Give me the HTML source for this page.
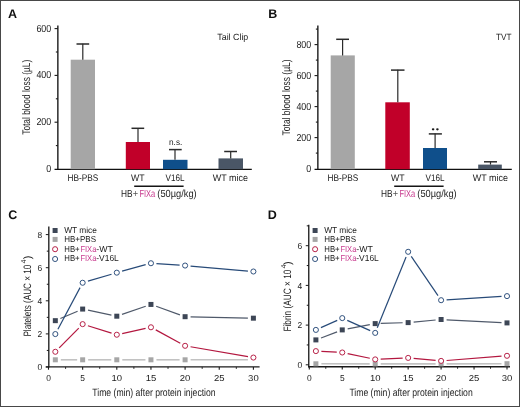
<!DOCTYPE html>
<html><head><meta charset="utf-8"><style>
html,body{margin:0;padding:0;background:#fff;}
body{width:520px;height:407px;overflow:hidden;}
svg{display:block;font-family:"Liberation Sans", sans-serif;will-change:transform;text-rendering:geometricPrecision;}
</style></head><body>
<svg width="520" height="407" viewBox="0 0 520 407">
<rect x="0" y="0" width="520" height="407" fill="#fff"/>
<text x="8" y="18" font-size="12.5" text-anchor="start" fill="#111" font-weight="bold" >A</text>
<text x="268.3" y="18.2" font-size="12.5" text-anchor="start" fill="#111" font-weight="bold" >B</text>
<text x="8.2" y="218.7" font-size="12.5" text-anchor="start" fill="#111" font-weight="bold" >C</text>
<text x="267.8" y="218.7" font-size="12.5" text-anchor="start" fill="#111" font-weight="bold" >D</text>
<line x1="57.85" y1="25.5" x2="57.85" y2="169.9" stroke="#2a2a2a" stroke-width="1.5"/>
<line x1="54.55" y1="28.6" x2="57.85" y2="28.6" stroke="#1a1a1a" stroke-width="1.1"/>
<text x="51.25" y="31.6" font-size="10.2" text-anchor="end" fill="#222222" font-weight="normal" textLength="14.85" lengthAdjust="spacingAndGlyphs" >600</text>
<line x1="54.55" y1="75.4" x2="57.85" y2="75.4" stroke="#1a1a1a" stroke-width="1.1"/>
<text x="51.25" y="78.4" font-size="10.2" text-anchor="end" fill="#222222" font-weight="normal" textLength="14.85" lengthAdjust="spacingAndGlyphs" >400</text>
<line x1="54.55" y1="122.2" x2="57.85" y2="122.2" stroke="#1a1a1a" stroke-width="1.1"/>
<text x="51.25" y="125.2" font-size="10.2" text-anchor="end" fill="#222222" font-weight="normal" textLength="14.85" lengthAdjust="spacingAndGlyphs" >200</text>
<text x="51.25" y="172.0" font-size="10.2" text-anchor="end" fill="#222222" font-weight="normal" textLength="4.95" lengthAdjust="spacingAndGlyphs" >0</text>
<line x1="55.85" y1="52.0" x2="57.85" y2="52.0" stroke="#1a1a1a" stroke-width="1.1"/>
<line x1="55.85" y1="98.8" x2="57.85" y2="98.8" stroke="#1a1a1a" stroke-width="1.1"/>
<line x1="55.85" y1="145.6" x2="57.85" y2="145.6" stroke="#1a1a1a" stroke-width="1.1"/>
<line x1="54.55" y1="169.35" x2="251.8" y2="169.35" stroke="#111" stroke-width="1.2"/>
<rect x="70.7" y="59.7" width="24.3" height="109.5" fill="#a6a6a6"/>
<line x1="82.8" y1="43.7" x2="82.8" y2="59.7" stroke="#2a2a2a" stroke-width="1.2"/>
<line x1="76.5" y1="44.0" x2="89.2" y2="44.0" stroke="#2a2a2a" stroke-width="1.5"/>
<rect x="125.8" y="142" width="24.2" height="27.2" fill="#c10029"/>
<line x1="138" y1="128" x2="138" y2="142" stroke="#2a2a2a" stroke-width="1.2"/>
<line x1="131.5" y1="128.3" x2="144.2" y2="128.3" stroke="#2a2a2a" stroke-width="1.5"/>
<rect x="163" y="159.8" width="24.5" height="9.4" fill="#0f4f8b"/>
<line x1="175" y1="149.3" x2="175" y2="159.8" stroke="#2a2a2a" stroke-width="1.2"/>
<line x1="169" y1="149.6" x2="181.7" y2="149.6" stroke="#2a2a2a" stroke-width="1.5"/>
<rect x="218.5" y="158.4" width="24.5" height="10.8" fill="#4a5666"/>
<line x1="230.7" y1="151.2" x2="230.7" y2="158.4" stroke="#2a2a2a" stroke-width="1.2"/>
<line x1="224.2" y1="151.5" x2="237" y2="151.5" stroke="#2a2a2a" stroke-width="1.5"/>
<text x="67.4" y="180.5" font-size="9.6" text-anchor="start" fill="#222222" font-weight="normal" textLength="30.9" lengthAdjust="spacingAndGlyphs" >HB-PBS</text>
<text x="137.8" y="180.5" font-size="9.6" text-anchor="middle" fill="#222222" font-weight="normal" textLength="13.6" lengthAdjust="spacingAndGlyphs" >WT</text>
<text x="175.1" y="180.5" font-size="9.6" text-anchor="middle" fill="#222222" font-weight="normal" textLength="19" lengthAdjust="spacingAndGlyphs" >V16L</text>
<text x="212.7" y="180.5" font-size="9.6" text-anchor="start" fill="#222222" font-weight="normal" textLength="35.2" lengthAdjust="spacingAndGlyphs" >WT mice</text>
<line x1="134.2" y1="186.25" x2="183.6" y2="186.25" stroke="#151515" stroke-width="1.3"/>
<text x="121.0" y="196.9" font-size="10.3" text-anchor="start" fill="#222222" font-weight="normal" textLength="11.6" lengthAdjust="spacingAndGlyphs" >HB</text>
<text x="132.8" y="196.9" font-size="10.3" text-anchor="start" fill="#555" font-weight="normal" textLength="5.4" lengthAdjust="spacingAndGlyphs" >+</text>
<text x="139.4" y="196.9" font-size="10.3" text-anchor="start" fill="#c83a8e" font-weight="normal" textLength="15.8" lengthAdjust="spacingAndGlyphs" >FIXa</text>
<text x="157.3" y="196.9" font-size="10.3" text-anchor="start" fill="#222222" font-weight="normal" textLength="39.4" lengthAdjust="spacingAndGlyphs" >(50µg/kg)</text>
<text x="169" y="145.3" font-size="8.6" text-anchor="start" fill="#222222" font-weight="normal" textLength="13.3" lengthAdjust="spacingAndGlyphs" >n.s.</text>
<text x="217.3" y="40.2" font-size="9" text-anchor="start" fill="#222222" font-weight="normal" textLength="31" lengthAdjust="spacingAndGlyphs" >Tail Clip</text>
<text transform="translate(29.9,97.3) rotate(-90)" font-size="11" text-anchor="middle" fill="#222222" textLength="75" lengthAdjust="spacingAndGlyphs">Total blood loss (µL)</text>
<line x1="317.85" y1="25.6" x2="317.85" y2="169.9" stroke="#2a2a2a" stroke-width="1.5"/>
<line x1="314.55" y1="44.6" x2="317.85" y2="44.6" stroke="#1a1a1a" stroke-width="1.1"/>
<text x="311.25" y="47.6" font-size="10.2" text-anchor="end" fill="#222222" font-weight="normal" textLength="14.85" lengthAdjust="spacingAndGlyphs" >800</text>
<line x1="314.55" y1="75.6" x2="317.85" y2="75.6" stroke="#1a1a1a" stroke-width="1.1"/>
<text x="311.25" y="78.6" font-size="10.2" text-anchor="end" fill="#222222" font-weight="normal" textLength="14.85" lengthAdjust="spacingAndGlyphs" >600</text>
<line x1="314.55" y1="106.6" x2="317.85" y2="106.6" stroke="#1a1a1a" stroke-width="1.1"/>
<text x="311.25" y="109.6" font-size="10.2" text-anchor="end" fill="#222222" font-weight="normal" textLength="14.85" lengthAdjust="spacingAndGlyphs" >400</text>
<line x1="314.55" y1="137.6" x2="317.85" y2="137.6" stroke="#1a1a1a" stroke-width="1.1"/>
<text x="311.25" y="140.6" font-size="10.2" text-anchor="end" fill="#222222" font-weight="normal" textLength="14.85" lengthAdjust="spacingAndGlyphs" >200</text>
<text x="311.25" y="171.6" font-size="10.2" text-anchor="end" fill="#222222" font-weight="normal" textLength="4.95" lengthAdjust="spacingAndGlyphs" >0</text>
<line x1="315.85" y1="29.1" x2="317.85" y2="29.1" stroke="#1a1a1a" stroke-width="1.1"/>
<line x1="315.85" y1="60.1" x2="317.85" y2="60.1" stroke="#1a1a1a" stroke-width="1.1"/>
<line x1="315.85" y1="91.1" x2="317.85" y2="91.1" stroke="#1a1a1a" stroke-width="1.1"/>
<line x1="315.85" y1="122.1" x2="317.85" y2="122.1" stroke="#1a1a1a" stroke-width="1.1"/>
<line x1="315.85" y1="153.1" x2="317.85" y2="153.1" stroke="#1a1a1a" stroke-width="1.1"/>
<line x1="314.55" y1="169.35" x2="511.8" y2="169.35" stroke="#111" stroke-width="1.2"/>
<rect x="330.7" y="55.4" width="24.1" height="113.8" fill="#a6a6a6"/>
<line x1="342.6" y1="39" x2="342.6" y2="55.4" stroke="#2a2a2a" stroke-width="1.2"/>
<line x1="336.2" y1="39.3" x2="349" y2="39.3" stroke="#2a2a2a" stroke-width="1.5"/>
<rect x="385.3" y="102.3" width="24.5" height="66.9" fill="#c10029"/>
<line x1="397.8" y1="69.8" x2="397.8" y2="102.3" stroke="#2a2a2a" stroke-width="1.2"/>
<line x1="391" y1="70.1" x2="404.5" y2="70.1" stroke="#2a2a2a" stroke-width="1.5"/>
<rect x="423" y="148" width="24" height="21.2" fill="#0f4f8b"/>
<line x1="435.1" y1="133.6" x2="435.1" y2="148" stroke="#2a2a2a" stroke-width="1.2"/>
<line x1="428.8" y1="133.9" x2="441.9" y2="133.9" stroke="#2a2a2a" stroke-width="1.5"/>
<rect x="478.2" y="164.6" width="23.6" height="4.6" fill="#4a5666"/>
<line x1="490.5" y1="161.5" x2="490.5" y2="164.6" stroke="#2a2a2a" stroke-width="1.2"/>
<line x1="484" y1="161.8" x2="497" y2="161.8" stroke="#2a2a2a" stroke-width="1.5"/>
<text x="327.4" y="180.5" font-size="9.6" text-anchor="start" fill="#222222" font-weight="normal" textLength="30.9" lengthAdjust="spacingAndGlyphs" >HB-PBS</text>
<text x="397.8" y="180.5" font-size="9.6" text-anchor="middle" fill="#222222" font-weight="normal" textLength="13.6" lengthAdjust="spacingAndGlyphs" >WT</text>
<text x="435.1" y="180.5" font-size="9.6" text-anchor="middle" fill="#222222" font-weight="normal" textLength="19" lengthAdjust="spacingAndGlyphs" >V16L</text>
<text x="472.7" y="180.5" font-size="9.6" text-anchor="start" fill="#222222" font-weight="normal" textLength="35.2" lengthAdjust="spacingAndGlyphs" >WT mice</text>
<line x1="394.2" y1="186.25" x2="443.6" y2="186.25" stroke="#151515" stroke-width="1.3"/>
<text x="381.0" y="196.9" font-size="10.3" text-anchor="start" fill="#222222" font-weight="normal" textLength="11.6" lengthAdjust="spacingAndGlyphs" >HB</text>
<text x="392.8" y="196.9" font-size="10.3" text-anchor="start" fill="#555" font-weight="normal" textLength="5.4" lengthAdjust="spacingAndGlyphs" >+</text>
<text x="399.4" y="196.9" font-size="10.3" text-anchor="start" fill="#c83a8e" font-weight="normal" textLength="15.8" lengthAdjust="spacingAndGlyphs" >FIXa</text>
<text x="417.3" y="196.9" font-size="10.3" text-anchor="start" fill="#222222" font-weight="normal" textLength="39.4" lengthAdjust="spacingAndGlyphs" >(50µg/kg)</text>
<ellipse cx="433.1" cy="129.3" rx="1.3" ry="1.1" fill="#1a1a1a"/><ellipse cx="437.4" cy="129.3" rx="1.3" ry="1.1" fill="#1a1a1a"/>
<text x="496" y="40" font-size="9" text-anchor="start" fill="#222222" font-weight="normal" textLength="15.5" lengthAdjust="spacingAndGlyphs" >TVT</text>
<text transform="translate(289.9,97.4) rotate(-90)" font-size="11" text-anchor="middle" fill="#222222" textLength="76" lengthAdjust="spacingAndGlyphs">Total blood loss (µL)</text>
<line x1="48.8" y1="226.5" x2="48.8" y2="367.4" stroke="#262626" stroke-width="1.4"/>
<line x1="45.8" y1="367.0" x2="48.8" y2="367.0" stroke="#1a1a1a" stroke-width="1"/>
<text x="42.3" y="370.1" font-size="8.6" text-anchor="end" fill="#222222" font-weight="normal" textLength="4.7" lengthAdjust="spacingAndGlyphs" >0</text>
<line x1="46.8" y1="350.45" x2="48.8" y2="350.45" stroke="#1a1a1a" stroke-width="1"/>
<line x1="45.8" y1="333.9" x2="48.8" y2="333.9" stroke="#1a1a1a" stroke-width="1"/>
<text x="42.3" y="337.0" font-size="8.6" text-anchor="end" fill="#222222" font-weight="normal" textLength="4.7" lengthAdjust="spacingAndGlyphs" >2</text>
<line x1="46.8" y1="317.35" x2="48.8" y2="317.35" stroke="#1a1a1a" stroke-width="1"/>
<line x1="45.8" y1="300.8" x2="48.8" y2="300.8" stroke="#1a1a1a" stroke-width="1"/>
<text x="42.3" y="303.9" font-size="8.6" text-anchor="end" fill="#222222" font-weight="normal" textLength="4.7" lengthAdjust="spacingAndGlyphs" >4</text>
<line x1="46.8" y1="284.25" x2="48.8" y2="284.25" stroke="#1a1a1a" stroke-width="1"/>
<line x1="45.8" y1="267.7" x2="48.8" y2="267.7" stroke="#1a1a1a" stroke-width="1"/>
<text x="42.3" y="270.8" font-size="8.6" text-anchor="end" fill="#222222" font-weight="normal" textLength="4.7" lengthAdjust="spacingAndGlyphs" >6</text>
<line x1="46.8" y1="251.15" x2="48.8" y2="251.15" stroke="#1a1a1a" stroke-width="1"/>
<line x1="45.8" y1="234.6" x2="48.8" y2="234.6" stroke="#1a1a1a" stroke-width="1"/>
<text x="42.3" y="237.7" font-size="8.6" text-anchor="end" fill="#222222" font-weight="normal" textLength="4.7" lengthAdjust="spacingAndGlyphs" >8</text>
<line x1="45.8" y1="366.9" x2="259.6" y2="366.9" stroke="#1a1a1a" stroke-width="1.4"/>
<line x1="48.5" y1="366.9" x2="48.5" y2="369.7" stroke="#1a1a1a" stroke-width="1.1"/>
<text x="48.5" y="381.1" font-size="8.6" text-anchor="middle" fill="#222222" font-weight="normal" textLength="4.7" lengthAdjust="spacingAndGlyphs" >0</text>
<line x1="65.58" y1="366.9" x2="65.58" y2="368.9" stroke="#1a1a1a" stroke-width="0.9"/>
<line x1="82.65" y1="366.9" x2="82.65" y2="369.7" stroke="#1a1a1a" stroke-width="1.1"/>
<text x="82.65" y="381.1" font-size="8.6" text-anchor="middle" fill="#222222" font-weight="normal" textLength="4.7" lengthAdjust="spacingAndGlyphs" >5</text>
<line x1="99.72" y1="366.9" x2="99.72" y2="368.9" stroke="#1a1a1a" stroke-width="0.9"/>
<line x1="116.8" y1="366.9" x2="116.8" y2="369.7" stroke="#1a1a1a" stroke-width="1.1"/>
<text x="116.8" y="381.1" font-size="8.6" text-anchor="middle" fill="#222222" font-weight="normal" textLength="10.6" lengthAdjust="spacingAndGlyphs" >10</text>
<line x1="133.88" y1="366.9" x2="133.88" y2="368.9" stroke="#1a1a1a" stroke-width="0.9"/>
<line x1="150.95" y1="366.9" x2="150.95" y2="369.7" stroke="#1a1a1a" stroke-width="1.1"/>
<text x="150.95" y="381.1" font-size="8.6" text-anchor="middle" fill="#222222" font-weight="normal" textLength="10.6" lengthAdjust="spacingAndGlyphs" >15</text>
<line x1="168.03" y1="366.9" x2="168.03" y2="368.9" stroke="#1a1a1a" stroke-width="0.9"/>
<line x1="185.1" y1="366.9" x2="185.1" y2="369.7" stroke="#1a1a1a" stroke-width="1.1"/>
<text x="185.1" y="381.1" font-size="8.6" text-anchor="middle" fill="#222222" font-weight="normal" textLength="10.6" lengthAdjust="spacingAndGlyphs" >20</text>
<line x1="202.18" y1="366.9" x2="202.18" y2="368.9" stroke="#1a1a1a" stroke-width="0.9"/>
<line x1="219.25" y1="366.9" x2="219.25" y2="369.7" stroke="#1a1a1a" stroke-width="1.1"/>
<text x="219.25" y="381.1" font-size="8.6" text-anchor="middle" fill="#222222" font-weight="normal" textLength="10.6" lengthAdjust="spacingAndGlyphs" >25</text>
<line x1="236.32" y1="366.9" x2="236.32" y2="368.9" stroke="#1a1a1a" stroke-width="0.9"/>
<line x1="253.4" y1="366.9" x2="253.4" y2="369.7" stroke="#1a1a1a" stroke-width="1.1"/>
<text x="253.4" y="381.1" font-size="8.6" text-anchor="middle" fill="#222222" font-weight="normal" textLength="10.6" lengthAdjust="spacingAndGlyphs" >30</text>
<line x1="60.83" y1="359.8" x2="77.15" y2="359.8" stroke="#c2c2c2" stroke-width="1.6"/>
<line x1="88.15" y1="359.8" x2="111.3" y2="359.8" stroke="#c2c2c2" stroke-width="1.6"/>
<line x1="122.3" y1="359.8" x2="145.45" y2="359.8" stroke="#c2c2c2" stroke-width="1.6"/>
<line x1="156.45" y1="359.8" x2="179.6" y2="359.8" stroke="#c2c2c2" stroke-width="1.6"/>
<line x1="190.6" y1="359.8" x2="247.9" y2="359.8" stroke="#c2c2c2" stroke-width="1.6"/>
<line x1="60.39" y1="318.51" x2="77.59" y2="311.22" stroke="#4f596a" stroke-width="1.2"/>
<line x1="88.03" y1="310.2" x2="111.42" y2="315.07" stroke="#4f596a" stroke-width="1.2"/>
<line x1="122.0" y1="314.4" x2="145.75" y2="306.23" stroke="#4f596a" stroke-width="1.2"/>
<line x1="156.13" y1="306.3" x2="179.92" y2="314.83" stroke="#4f596a" stroke-width="1.2"/>
<line x1="190.6" y1="316.81" x2="247.9" y2="318.06" stroke="#4f596a" stroke-width="1.2"/>
<line x1="59.2" y1="347.86" x2="78.78" y2="328.05" stroke="#b3173f" stroke-width="1.2"/>
<line x1="87.9" y1="325.76" x2="111.55" y2="333.1" stroke="#b3173f" stroke-width="1.2"/>
<line x1="122.17" y1="333.56" x2="145.58" y2="328.45" stroke="#b3173f" stroke-width="1.2"/>
<line x1="155.78" y1="329.9" x2="180.27" y2="343.19" stroke="#b3173f" stroke-width="1.2"/>
<line x1="190.52" y1="346.75" x2="247.98" y2="356.63" stroke="#b3173f" stroke-width="1.2"/>
<line x1="57.92" y1="329.21" x2="80.06" y2="287.62" stroke="#274a78" stroke-width="1.2"/>
<line x1="87.92" y1="281.2" x2="111.53" y2="274.22" stroke="#274a78" stroke-width="1.2"/>
<line x1="122.1" y1="271.2" x2="145.65" y2="264.7" stroke="#274a78" stroke-width="1.2"/>
<line x1="156.44" y1="263.6" x2="179.61" y2="265.18" stroke="#274a78" stroke-width="1.2"/>
<line x1="190.58" y1="266.03" x2="247.92" y2="271.03" stroke="#274a78" stroke-width="1.2"/>
<rect x="52.83" y="357.30" width="5" height="5" fill="#a6a6a6"/>
<rect x="80.15" y="357.30" width="5" height="5" fill="#a6a6a6"/>
<rect x="114.30" y="357.30" width="5" height="5" fill="#a6a6a6"/>
<rect x="148.45" y="357.30" width="5" height="5" fill="#a6a6a6"/>
<rect x="182.60" y="357.30" width="5" height="5" fill="#a6a6a6"/>
<rect x="52.83" y="318.16" width="5" height="5" fill="#3d4656"/>
<rect x="80.15" y="306.57" width="5" height="5" fill="#3d4656"/>
<rect x="114.30" y="313.69" width="5" height="5" fill="#3d4656"/>
<rect x="148.45" y="301.94" width="5" height="5" fill="#3d4656"/>
<rect x="182.60" y="314.19" width="5" height="5" fill="#3d4656"/>
<rect x="250.90" y="315.68" width="5" height="5" fill="#3d4656"/>
<circle cx="55.33" cy="351.774" r="2.55" fill="#fff" stroke="#b3173f" stroke-width="0.95"/>
<circle cx="82.65" cy="324.1355" r="2.55" fill="#fff" stroke="#b3173f" stroke-width="0.95"/>
<circle cx="116.8" cy="334.7275" r="2.55" fill="#fff" stroke="#b3173f" stroke-width="0.95"/>
<circle cx="150.95" cy="327.28" r="2.55" fill="#fff" stroke="#b3173f" stroke-width="0.95"/>
<circle cx="185.1" cy="345.816" r="2.55" fill="#fff" stroke="#b3173f" stroke-width="0.95"/>
<circle cx="253.4" cy="357.5665" r="2.55" fill="#fff" stroke="#b3173f" stroke-width="0.95"/>
<circle cx="55.33" cy="334.0655" r="2.55" fill="#fff" stroke="#274a78" stroke-width="0.95"/>
<circle cx="82.65" cy="282.7605" r="2.55" fill="#fff" stroke="#274a78" stroke-width="0.95"/>
<circle cx="116.8" cy="272.66499999999996" r="2.55" fill="#fff" stroke="#274a78" stroke-width="0.95"/>
<circle cx="150.95" cy="263.2315" r="2.55" fill="#fff" stroke="#274a78" stroke-width="0.95"/>
<circle cx="185.1" cy="265.5485" r="2.55" fill="#fff" stroke="#274a78" stroke-width="0.95"/>
<circle cx="253.4" cy="271.5065" r="2.55" fill="#fff" stroke="#274a78" stroke-width="0.95"/>
<rect x="52.60" y="228.00" width="5" height="5" fill="#3d4656"/>
<rect x="52.60" y="236.90" width="5" height="5" fill="#a6a6a6"/>
<circle cx="55.1" cy="249.2" r="2.55" fill="#fff" stroke="#b3173f" stroke-width="0.95"/>
<circle cx="55.1" cy="259.0" r="2.55" fill="#fff" stroke="#274a78" stroke-width="0.95"/>
<text x="64.2" y="232.6" font-size="8.6" text-anchor="start" fill="#222222" font-weight="normal" textLength="32.7" lengthAdjust="spacingAndGlyphs" >WT mice</text>
<text x="64.2" y="241.8" font-size="8.6" text-anchor="start" fill="#222222" font-weight="normal" textLength="31.8" lengthAdjust="spacingAndGlyphs" >HB+PBS</text>
<text x="64.25" y="251.7" font-size="8.6" text-anchor="start" fill="#222222" font-weight="normal" textLength="15.4" lengthAdjust="spacingAndGlyphs" >HB+</text>
<text x="80.4" y="251.7" font-size="8.6" text-anchor="start" fill="#c83a8e" font-weight="normal" textLength="16.0" lengthAdjust="spacingAndGlyphs" >FIXa</text>
<text x="96.3" y="251.7" font-size="8.6" text-anchor="start" fill="#222222" font-weight="normal" textLength="16.6" lengthAdjust="spacingAndGlyphs" >-WT</text>
<text x="64.25" y="261.4" font-size="8.6" text-anchor="start" fill="#222222" font-weight="normal" textLength="15.4" lengthAdjust="spacingAndGlyphs" >HB+</text>
<text x="80.4" y="261.4" font-size="8.6" text-anchor="start" fill="#c83a8e" font-weight="normal" textLength="16.0" lengthAdjust="spacingAndGlyphs" >FIXa</text>
<text x="96.3" y="261.4" font-size="8.6" text-anchor="start" fill="#222222" font-weight="normal" textLength="22.5" lengthAdjust="spacingAndGlyphs" >-V16L</text>
<text x="92.3" y="396" font-size="10.6" fill="#222222" textLength="123.3" lengthAdjust="spacingAndGlyphs">Time (min) after protein injection</text>
<text transform="translate(30.7,336.59999999999997) rotate(-90)" font-size="10.7" fill="#222222" textLength="72.00" lengthAdjust="spacingAndGlyphs">Platelets (AUC × 10</text>
<text transform="translate(26.1,261.4) rotate(-90)" font-size="7.2" text-anchor="middle" fill="#222222">4</text>
<text transform="translate(30.7,255.79999999999998) rotate(-90)" font-size="10.7" text-anchor="end" fill="#222222">)</text>
<line x1="308.75" y1="224.7" x2="308.75" y2="367.3" stroke="#262626" stroke-width="1.4"/>
<line x1="305.75" y1="364.8" x2="308.75" y2="364.8" stroke="#1a1a1a" stroke-width="1"/>
<text x="302.25" y="367.9" font-size="8.6" text-anchor="end" fill="#222222" font-weight="normal" textLength="4.7" lengthAdjust="spacingAndGlyphs" >0</text>
<line x1="306.75" y1="344.95" x2="308.75" y2="344.95" stroke="#1a1a1a" stroke-width="1"/>
<line x1="305.75" y1="325.1" x2="308.75" y2="325.1" stroke="#1a1a1a" stroke-width="1"/>
<text x="302.25" y="328.2" font-size="8.6" text-anchor="end" fill="#222222" font-weight="normal" textLength="4.7" lengthAdjust="spacingAndGlyphs" >2</text>
<line x1="306.75" y1="305.25" x2="308.75" y2="305.25" stroke="#1a1a1a" stroke-width="1"/>
<line x1="305.75" y1="285.4" x2="308.75" y2="285.4" stroke="#1a1a1a" stroke-width="1"/>
<text x="302.25" y="288.5" font-size="8.6" text-anchor="end" fill="#222222" font-weight="normal" textLength="4.7" lengthAdjust="spacingAndGlyphs" >4</text>
<line x1="306.75" y1="265.55" x2="308.75" y2="265.55" stroke="#1a1a1a" stroke-width="1"/>
<line x1="305.75" y1="245.7" x2="308.75" y2="245.7" stroke="#1a1a1a" stroke-width="1"/>
<text x="302.25" y="248.8" font-size="8.6" text-anchor="end" fill="#222222" font-weight="normal" textLength="4.7" lengthAdjust="spacingAndGlyphs" >6</text>
<line x1="306.75" y1="225.85" x2="308.75" y2="225.85" stroke="#1a1a1a" stroke-width="1"/>
<line x1="308.05" y1="366.8" x2="510" y2="366.8" stroke="#1a1a1a" stroke-width="1.4"/>
<line x1="309.3" y1="366.8" x2="309.3" y2="369.6" stroke="#1a1a1a" stroke-width="1.1"/>
<text x="309.3" y="381.0" font-size="8.6" text-anchor="middle" fill="#222222" font-weight="normal" textLength="4.7" lengthAdjust="spacingAndGlyphs" >0</text>
<line x1="325.78" y1="366.8" x2="325.78" y2="368.8" stroke="#1a1a1a" stroke-width="0.9"/>
<line x1="342.25" y1="366.8" x2="342.25" y2="369.6" stroke="#1a1a1a" stroke-width="1.1"/>
<text x="342.25" y="381.0" font-size="8.6" text-anchor="middle" fill="#222222" font-weight="normal" textLength="4.7" lengthAdjust="spacingAndGlyphs" >5</text>
<line x1="358.73" y1="366.8" x2="358.73" y2="368.8" stroke="#1a1a1a" stroke-width="0.9"/>
<line x1="375.2" y1="366.8" x2="375.2" y2="369.6" stroke="#1a1a1a" stroke-width="1.1"/>
<text x="375.2" y="381.0" font-size="8.6" text-anchor="middle" fill="#222222" font-weight="normal" textLength="10.6" lengthAdjust="spacingAndGlyphs" >10</text>
<line x1="391.68" y1="366.8" x2="391.68" y2="368.8" stroke="#1a1a1a" stroke-width="0.9"/>
<line x1="408.15" y1="366.8" x2="408.15" y2="369.6" stroke="#1a1a1a" stroke-width="1.1"/>
<text x="408.15" y="381.0" font-size="8.6" text-anchor="middle" fill="#222222" font-weight="normal" textLength="10.6" lengthAdjust="spacingAndGlyphs" >15</text>
<line x1="424.62" y1="366.8" x2="424.62" y2="368.8" stroke="#1a1a1a" stroke-width="0.9"/>
<line x1="441.1" y1="366.8" x2="441.1" y2="369.6" stroke="#1a1a1a" stroke-width="1.1"/>
<text x="441.1" y="381.0" font-size="8.6" text-anchor="middle" fill="#222222" font-weight="normal" textLength="10.6" lengthAdjust="spacingAndGlyphs" >20</text>
<line x1="457.58" y1="366.8" x2="457.58" y2="368.8" stroke="#1a1a1a" stroke-width="0.9"/>
<line x1="474.05" y1="366.8" x2="474.05" y2="369.6" stroke="#1a1a1a" stroke-width="1.1"/>
<text x="474.05" y="381.0" font-size="8.6" text-anchor="middle" fill="#222222" font-weight="normal" textLength="10.6" lengthAdjust="spacingAndGlyphs" >25</text>
<line x1="490.52" y1="366.8" x2="490.52" y2="368.8" stroke="#1a1a1a" stroke-width="0.9"/>
<line x1="507.0" y1="366.8" x2="507.0" y2="369.6" stroke="#1a1a1a" stroke-width="1.1"/>
<text x="507.0" y="381.0" font-size="8.6" text-anchor="middle" fill="#222222" font-weight="normal" textLength="10.6" lengthAdjust="spacingAndGlyphs" >30</text>
<line x1="321.39" y1="363.81" x2="369.7" y2="363.89" stroke="#c2c2c2" stroke-width="1.6"/>
<line x1="380.7" y1="363.9" x2="435.6" y2="363.9" stroke="#c2c2c2" stroke-width="1.6"/>
<line x1="446.6" y1="363.88" x2="501.5" y2="363.72" stroke="#c2c2c2" stroke-width="1.6"/>
<line x1="321.03" y1="337.95" x2="337.11" y2="331.85" stroke="#4f596a" stroke-width="1.2"/>
<line x1="347.65" y1="328.87" x2="369.8" y2="324.63" stroke="#4f596a" stroke-width="1.2"/>
<line x1="380.7" y1="323.43" x2="402.65" y2="322.77" stroke="#4f596a" stroke-width="1.2"/>
<line x1="413.63" y1="322.08" x2="435.62" y2="320.02" stroke="#4f596a" stroke-width="1.2"/>
<line x1="446.59" y1="319.78" x2="501.51" y2="322.62" stroke="#4f596a" stroke-width="1.2"/>
<line x1="321.38" y1="351.39" x2="336.76" y2="352.21" stroke="#b3173f" stroke-width="1.2"/>
<line x1="347.63" y1="353.63" x2="369.82" y2="358.27" stroke="#b3173f" stroke-width="1.2"/>
<line x1="380.69" y1="359.15" x2="402.66" y2="358.15" stroke="#b3173f" stroke-width="1.2"/>
<line x1="413.63" y1="358.4" x2="435.62" y2="360.4" stroke="#b3173f" stroke-width="1.2"/>
<line x1="446.58" y1="360.48" x2="501.52" y2="356.22" stroke="#b3173f" stroke-width="1.2"/>
<line x1="320.91" y1="327.65" x2="337.23" y2="320.35" stroke="#274a78" stroke-width="1.2"/>
<line x1="347.27" y1="320.35" x2="370.18" y2="330.65" stroke="#274a78" stroke-width="1.2"/>
<line x1="377.27" y1="327.8" x2="406.08" y2="256.9" stroke="#274a78" stroke-width="1.2"/>
<line x1="411.25" y1="256.35" x2="438.0" y2="295.65" stroke="#274a78" stroke-width="1.2"/>
<line x1="446.59" y1="299.86" x2="501.51" y2="296.44" stroke="#274a78" stroke-width="1.2"/>
<rect x="313.39" y="361.30" width="5" height="5" fill="#a6a6a6"/>
<rect x="372.70" y="361.40" width="5" height="5" fill="#a6a6a6"/>
<rect x="438.60" y="361.40" width="5" height="5" fill="#a6a6a6"/>
<rect x="504.50" y="361.20" width="5" height="5" fill="#a6a6a6"/>
<rect x="313.39" y="337.40" width="5" height="5" fill="#3d4656"/>
<rect x="339.75" y="327.40" width="5" height="5" fill="#3d4656"/>
<rect x="372.70" y="321.10" width="5" height="5" fill="#3d4656"/>
<rect x="405.65" y="320.10" width="5" height="5" fill="#3d4656"/>
<rect x="438.60" y="317.00" width="5" height="5" fill="#3d4656"/>
<rect x="504.50" y="320.40" width="5" height="5" fill="#3d4656"/>
<circle cx="315.89" cy="351.1" r="2.55" fill="#fff" stroke="#b3173f" stroke-width="0.95"/>
<circle cx="342.25" cy="352.5" r="2.55" fill="#fff" stroke="#b3173f" stroke-width="0.95"/>
<circle cx="375.20000000000005" cy="359.4" r="2.55" fill="#fff" stroke="#b3173f" stroke-width="0.95"/>
<circle cx="408.15" cy="357.9" r="2.55" fill="#fff" stroke="#b3173f" stroke-width="0.95"/>
<circle cx="441.1" cy="360.9" r="2.55" fill="#fff" stroke="#b3173f" stroke-width="0.95"/>
<circle cx="507.0" cy="355.8" r="2.55" fill="#fff" stroke="#b3173f" stroke-width="0.95"/>
<circle cx="315.89" cy="329.9" r="2.55" fill="#fff" stroke="#274a78" stroke-width="0.95"/>
<circle cx="342.25" cy="318.1" r="2.55" fill="#fff" stroke="#274a78" stroke-width="0.95"/>
<circle cx="375.20000000000005" cy="332.9" r="2.55" fill="#fff" stroke="#274a78" stroke-width="0.95"/>
<circle cx="408.15" cy="251.8" r="2.55" fill="#fff" stroke="#274a78" stroke-width="0.95"/>
<circle cx="441.1" cy="300.2" r="2.55" fill="#fff" stroke="#274a78" stroke-width="0.95"/>
<circle cx="507.0" cy="296.1" r="2.55" fill="#fff" stroke="#274a78" stroke-width="0.95"/>
<rect x="312.60" y="228.00" width="5" height="5" fill="#3d4656"/>
<rect x="312.60" y="236.90" width="5" height="5" fill="#a6a6a6"/>
<circle cx="315.1" cy="249.2" r="2.55" fill="#fff" stroke="#b3173f" stroke-width="0.95"/>
<circle cx="315.1" cy="259.0" r="2.55" fill="#fff" stroke="#274a78" stroke-width="0.95"/>
<text x="324.2" y="232.6" font-size="8.6" text-anchor="start" fill="#222222" font-weight="normal" textLength="32.7" lengthAdjust="spacingAndGlyphs" >WT mice</text>
<text x="324.2" y="241.8" font-size="8.6" text-anchor="start" fill="#222222" font-weight="normal" textLength="31.8" lengthAdjust="spacingAndGlyphs" >HB+PBS</text>
<text x="324.25" y="251.7" font-size="8.6" text-anchor="start" fill="#222222" font-weight="normal" textLength="15.4" lengthAdjust="spacingAndGlyphs" >HB+</text>
<text x="340.4" y="251.7" font-size="8.6" text-anchor="start" fill="#c83a8e" font-weight="normal" textLength="16.0" lengthAdjust="spacingAndGlyphs" >FIXa</text>
<text x="356.3" y="251.7" font-size="8.6" text-anchor="start" fill="#222222" font-weight="normal" textLength="16.6" lengthAdjust="spacingAndGlyphs" >-WT</text>
<text x="324.25" y="261.4" font-size="8.6" text-anchor="start" fill="#222222" font-weight="normal" textLength="15.4" lengthAdjust="spacingAndGlyphs" >HB+</text>
<text x="340.4" y="261.4" font-size="8.6" text-anchor="start" fill="#c83a8e" font-weight="normal" textLength="16.0" lengthAdjust="spacingAndGlyphs" >FIXa</text>
<text x="356.3" y="261.4" font-size="8.6" text-anchor="start" fill="#222222" font-weight="normal" textLength="22.5" lengthAdjust="spacingAndGlyphs" >-V16L</text>
<text x="349.4" y="396" font-size="10.6" fill="#222222" textLength="123.3" lengthAdjust="spacingAndGlyphs">Time (min) after protein injection</text>
<text transform="translate(290.7,331.59999999999997) rotate(-90)" font-size="10.7" fill="#222222" textLength="62.00" lengthAdjust="spacingAndGlyphs">Fibrin (AUC × 10</text>
<text transform="translate(286.09999999999997,266.4) rotate(-90)" font-size="7.2" text-anchor="middle" fill="#222222">4</text>
<text transform="translate(290.7,261.4) rotate(-90)" font-size="10.7" text-anchor="end" fill="#222222">)</text>
<rect x="0.5" y="0.5" width="519" height="406" fill="none" stroke="#484848" stroke-width="1"/>
</svg>
</body></html>
